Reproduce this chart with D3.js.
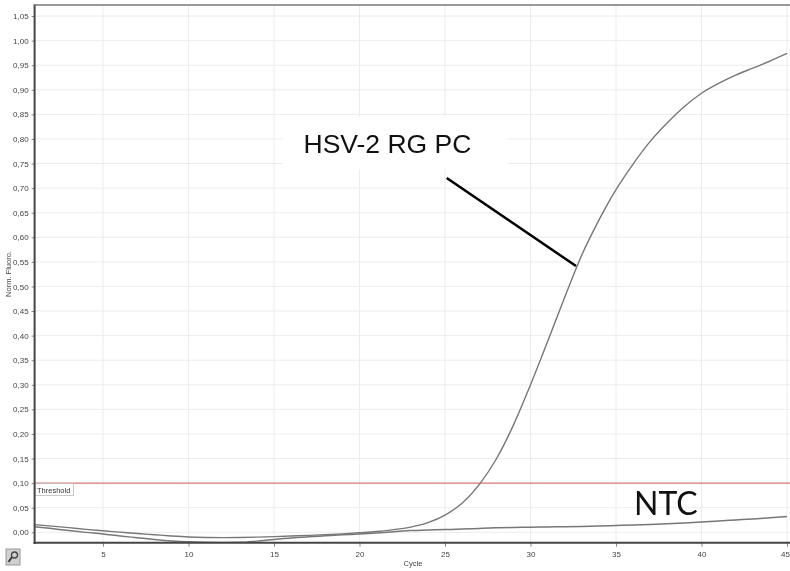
<!DOCTYPE html>
<html>
<head>
<meta charset="utf-8">
<script src="https://cdnjs.cloudflare.com/ajax/libs/d3/7.8.5/d3.min.js"></script>
<style>
	html, body { margin: 0; padding: 0; background: #fff; }
	svg { display: block; }
	.tick text { font-family: "Liberation Sans", sans-serif; font-size: 8px; fill: #444; }
	.axisTitle { font-family: "Liberation Sans", sans-serif; font-size: 7.5px; fill: #444; }
</style>
</head>
<body>
<div class="mainContainer"></div>
<script>
var cycles = [1,2,3,4,5,6,7,8,9,10,11,12,13,14,15,16,17,18,19,20,21,22,23,24,25,26,27,28,29,30,31,32,33,34,35,36,37,38,39,40,41,42,43,44,45];
var pcValues = [0.0155,0.0125,0.0095,0.006,0.003,0.0003,-0.0025,-0.005,-0.0075,-0.0095,-0.0105,-0.0108,-0.0105,-0.0098,-0.0088,-0.0075,-0.0062,-0.005,-0.0032,-0.001,0.0015,0.0055,0.0105,0.0195,0.035,0.059,0.097,0.149,0.218,0.3,0.388,0.478,0.564,0.635,0.697,0.749,0.795,0.833,0.866,0.893,0.913,0.93,0.944,0.9585,0.974];
var ntcValues = [0.0114,0.0075,0.0035,-0.0002,-0.0035,-0.0075,-0.011,-0.0145,-0.0175,-0.0195,-0.0205,-0.0208,-0.0205,-0.018,-0.0145,-0.0115,-0.0092,-0.0072,-0.0052,-0.0035,-0.0015,0.001,0.0035,0.0045,0.0055,0.0065,0.0078,0.009,0.0098,0.0102,0.0108,0.0113,0.012,0.0128,0.0138,0.0148,0.016,0.0175,0.019,0.0207,0.0228,0.025,0.0272,0.0295,0.0322];
var xTicks = [5,10,15,20,25,30,35,40,45];
var yTicks = [0,0.05,0.1,0.15,0.2,0.25,0.3,0.35,0.4,0.45,0.5,0.55,0.6,0.65,0.7,0.75,0.8,0.85,0.9,0.95,1,1.05];
var threshold = 0.1;
var leaderCycle = [25.1,32.66];
var leaderValue = [0.7206,0.5416];

var svg = d3.select('.mainContainer').append('svg').attr('width', 790).attr('height', 571);

var defs = svg.append('defs');
defs.append('filter').attr('id', 'soft').append('feGaussianBlur').attr('stdDeviation', 0.5);
defs.append('clipPath').attr('id', 'plotClip').append('rect').attr('x', 34).attr('y', 5).attr('width', 756).attr('height', 538);

var x = d3.scaleLinear().domain([1,45]).range([34.6,787]);
var y = d3.scaleLinear().domain([-0.0212,1.0725]).range([542.7,5]);

var chart = svg.append('g').attr('filter', 'url(#soft)');

// grid
chart.append('g').selectAll('line').data(xTicks).enter().append('line')
	.attr('x1', function(d){ return x(d); }).attr('x2', function(d){ return x(d); })
	.attr('y1', y.range()[1]).attr('y2', y.range()[0])
	.style('stroke', '#ececec').style('stroke-width', 1);
chart.append('g').selectAll('line').data(yTicks).enter().append('line')
	.attr('x1', x.range()[0]).attr('x2', 790)
	.attr('y1', function(d){ return y(d); }).attr('y2', function(d){ return y(d); })
	.style('stroke', '#ececec').style('stroke-width', 1);

// axes
var xAxis = d3.axisBottom(x).tickValues(xTicks).tickSize(4).tickSizeOuter(0);
var yAxis = d3.axisLeft(y).tickValues(yTicks).tickSize(3).tickSizeOuter(0)
	.tickFormat(function(d){ return d3.format('.2f')(d).replace('.', ','); });

var gx = chart.append('g').attr('transform', 'translate(0,' + y.range()[0] + ')').call(xAxis);
var gy = chart.append('g').attr('transform', 'translate(' + x.range()[0] + ',0)').call(yAxis);
gx.selectAll('.tick line').style('stroke', '#888');
gy.selectAll('.tick line').style('stroke', '#888');
gx.selectAll('.tick text').attr('dy', '0.95em');
// last label would run off the window
gx.selectAll('.tick text').filter(function(d){ return d == 45; }).attr('text-anchor', 'end').attr('x', 2.5);
gx.select('.domain').remove();
gy.select('.domain').remove();

chart.append('text').attr('class', 'axisTitle').attr('x', 413).attr('y', 566).attr('text-anchor', 'middle').text('Cycle');
chart.append('text').attr('class', 'axisTitle').attr('text-anchor', 'middle')
	.attr('transform', 'translate(11,274) rotate(-90)').text('Norm. Fluoro.');

// threshold
chart.append('line').attr('x1', x.range()[0]).attr('x2', 790)
	.attr('y1', y(threshold)).attr('y2', y(threshold))
	.style('stroke', '#dd5a5a').style('stroke-width', 1);
chart.append('rect').attr('x', 35).attr('y', y(threshold) + 0.5).attr('width', 38.5).attr('height', 12)
	.style('fill', '#fff').style('stroke', '#bbb').style('stroke-width', 0.8);
chart.append('text').attr('class', 'axisTitle').attr('x', 37).attr('y', y(threshold) + 9.5)
	.style('fill', '#333').text('Threshold');

// curves
var line = d3.line().curve(d3.curveMonotoneX).x(function(d,i){ return x(cycles[i]); }).y(function(d){ return y(d); });
var curves = chart.append('g').attr('clip-path', 'url(#plotClip)');
curves.append('path').attr('d', line(ntcValues)).style('fill', 'none').style('stroke', '#777').style('stroke-width', 1.5);
curves.append('path').attr('d', line(pcValues)).style('fill', 'none').style('stroke', '#777').style('stroke-width', 1.4);

// frame
chart.append('line').attr('x1', x.range()[0]).attr('x2', x.range()[0]).attr('y1', 4.5).attr('y2', 544)
	.style('stroke', '#444').style('stroke-width', 2);
chart.append('line').attr('x1', 33.6).attr('x2', 790).attr('y1', y.range()[0]).attr('y2', y.range()[0])
	.style('stroke', '#444').style('stroke-width', 2);
chart.append('line').attr('x1', 33.6).attr('x2', 790).attr('y1', 5).attr('y2', 5)
	.style('stroke', '#777').style('stroke-width', 1.5);

// zoom button
var icon = chart.append('g').attr('transform', 'translate(6,549)');
icon.append('rect').attr('width', 14).attr('height', 16).style('fill', '#cfcfcf').style('stroke', '#999').style('stroke-width', 1);
icon.append('circle').attr('cx', 8.5).attr('cy', 6).attr('r', 3).style('fill', 'none').style('stroke', '#444').style('stroke-width', 1.3);
icon.append('line').attr('x1', 6).attr('y1', 8).attr('x2', 2.5).attr('y2', 13).style('stroke', '#333').style('stroke-width', 1.8);

// labels pasted over the chart
svg.append('rect').attr('x', 283).attr('y', 117).attr('width', 225).attr('height', 52).style('fill', '#fff');
svg.append('text').attr('x', 303.5).attr('y', 152.5)
	.style('font-family', '"Liberation Sans", sans-serif').style('font-size', '26.5px').style('fill', '#111')
	.text('HSV-2 RG PC');
svg.append('line')
	.attr('x1', x(leaderCycle[0])).attr('y1', y(leaderValue[0]))
	.attr('x2', x(leaderCycle[1])).attr('y2', y(leaderValue[1]))
	.style('stroke', '#000').style('stroke-width', 2.6);
svg.append('text').attr('x', 634).attr('y', 515)
	.style('font-family', 'Lato, sans-serif').style('font-size', '32px').style('fill', '#111')
	.text('NTC');
</script>
</body>
</html>
